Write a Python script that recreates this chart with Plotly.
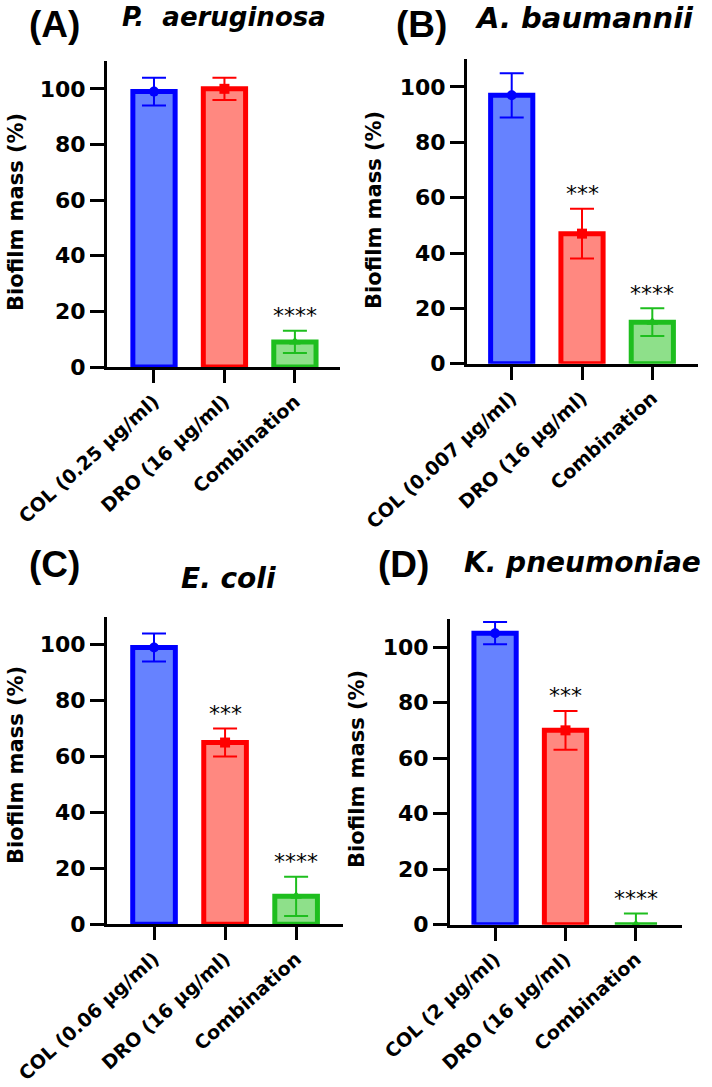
import plotly.graph_objects as go

# ---------------- data ----------------
panel_letters = ["(A)", "(B)", "(C)", "(D)"]
species = ["P.\u00a0 aeruginosa", "A. baumannii", "E. coli", "K. pneumoniae"]

cats_A = ["COL (0.25 µg/ml)", "DRO (16 µg/ml)", "Combination"]
cats_B = ["COL (0.007 µg/ml)", "DRO (16 µg/ml)", "Combination"]
cats_C = ["COL (0.06 µg/ml)", "DRO (16 µg/ml)", "Combination"]
cats_D = ["COL (2 µg/ml)", "DRO (16 µg/ml)", "Combination"]

mean_A = [99, 100, 9]
sd_A = [5, 4, 4]
mean_B = [97, 47, 15]
sd_B = [8, 9, 5]
mean_C = [99, 65, 10]
sd_C = [5, 5, 7]
mean_D = [105, 70, 0]
sd_D = [4, 7, 4]

stars_A = ["", "", "****"]
stars_B = ["", "***", "****"]
stars_C = ["", "***", "****"]
stars_D = ["", "***", "****"]

y_ticks = [0, 20, 40, 60, 80, 100]
y_title = "Biofilm mass (%)"

# ---------------- styles ----------------
fills = ["#6682FF", "#FF8880", "#8EE08A"]
edges = ["#0000FF", "#FF0000", "#1EBE1E"]
symbols = ["circle", "square", "triangle-up"]

W, H = 712, 1087
BOLD = "DejaVu Sans"

# pixel geometry of each panel: (x_left, x_right, y_top, y_bottom, xrange)
geo = [
    (107, 340, 61, 367, [-0.667, 2.64]),
    (467, 698, 59.3, 363.7, [-0.636, 2.65]),
    (107, 343, 616.7, 924.3, [-0.662, 2.66]),
    (450, 681.7, 619.3, 924.7, [-0.64, 2.65]),
]
ytitle_pos = [(16, 212), (374, 210), (16, 765), (357, 769)]
letter_pos = [(54, 25), (421, 25), (54, 564), (403, 564)]
species_pos = [(224, 17, 26), (584, 18, 29), (228, 578, 28), (582, 562, 28)]

panels = [
    (cats_A, mean_A, sd_A, stars_A),
    (cats_B, mean_B, sd_B, stars_B),
    (cats_C, mean_C, sd_C, stars_C),
    (cats_D, mean_D, sd_D, stars_D),
]

fig = go.Figure()
annotations = []

for p, (cats, means, sds, stars) in enumerate(panels):
    n = "" if p == 0 else str(p + 1)
    xa, ya = "x" + n, "y" + n
    for i, c in enumerate(cats):
        fig.add_trace(go.Bar(
            x=[c], y=[means[i]], xaxis=xa, yaxis=ya, width=0.6,
            marker=dict(color=fills[i], line=dict(color=edges[i], width=5)),
            error_y=dict(type="data", array=[sds[i]], color=edges[i],
                         thickness=2, width=12),
            showlegend=False,
        ))
        fig.add_trace(go.Scatter(
            x=[c], y=[means[i]], xaxis=xa, yaxis=ya, mode="markers",
            marker=dict(symbol=symbols[i], color=edges[i], size=10),
            cliponaxis=False, showlegend=False,
        ))
        if stars[i]:
            annotations.append(dict(
                x=c, y=means[i] + sds[i] + 0.2, xref=xa, yref=ya,
                text=stars[i], showarrow=False, yanchor="bottom",
                font=dict(family="DejaVu Sans", size=22, color="black"),
            ))
    xl, xr, yt, yb, xr_rng = geo[p]
    fig.layout["xaxis" + n] = dict(
        domain=[xl / W, xr / W], range=xr_rng, anchor=ya, automargin=False,
        type="category", categoryorder="array", categoryarray=cats,
        showline=True, linecolor="black", linewidth=3,
        ticks="outside", ticklen=13, tickwidth=3, tickcolor="black",
        tickangle=-42, showgrid=False, zeroline=False,
        tickfont=dict(family=BOLD, size=19, color="black", weight="bold"),
    )
    fig.layout["yaxis" + n] = dict(
        domain=[1 - yb / H, 1 - yt / H], range=[0, 110], anchor=xa,
        automargin=False,
        tickvals=y_ticks, showline=True, linecolor="black", linewidth=3,
        ticks="outside", ticklen=14, tickwidth=3, tickcolor="black",
        showgrid=False, zeroline=False,
        tickfont=dict(family=BOLD, size=22, color="black", weight="bold"),
    )
    tx, ty = ytitle_pos[p]
    annotations.append(dict(
        x=tx / W, y=1 - ty / H, xref="paper", yref="paper", text=y_title,
        textangle=-90, showarrow=False, xanchor="center", yanchor="middle",
        font=dict(family=BOLD, size=21, color="black", weight="bold"),
    ))
    lx, ly = letter_pos[p]
    annotations.append(dict(
        x=lx / W, y=1 - ly / H, xref="paper", yref="paper", text=panel_letters[p],
        showarrow=False, xanchor="center", yanchor="middle",
        font=dict(family="Liberation Sans", size=37, color="black", weight="bold"),
    ))
    sx, sy, ss = species_pos[p]
    annotations.append(dict(
        x=sx / W, y=1 - sy / H, xref="paper", yref="paper", text=species[p],
        showarrow=False, xanchor="center", yanchor="middle",
        font=dict(family=BOLD, size=ss, color="black", weight="bold", style="italic"),
    ))

fig.update_layout(
    width=W, height=H, autosize=False,
    margin=dict(l=0, r=0, t=0, b=0, autoexpand=False),
    paper_bgcolor="white", plot_bgcolor="white",
    barmode="overlay", annotations=annotations, showlegend=False,
)

fig.write_html("out.html")
